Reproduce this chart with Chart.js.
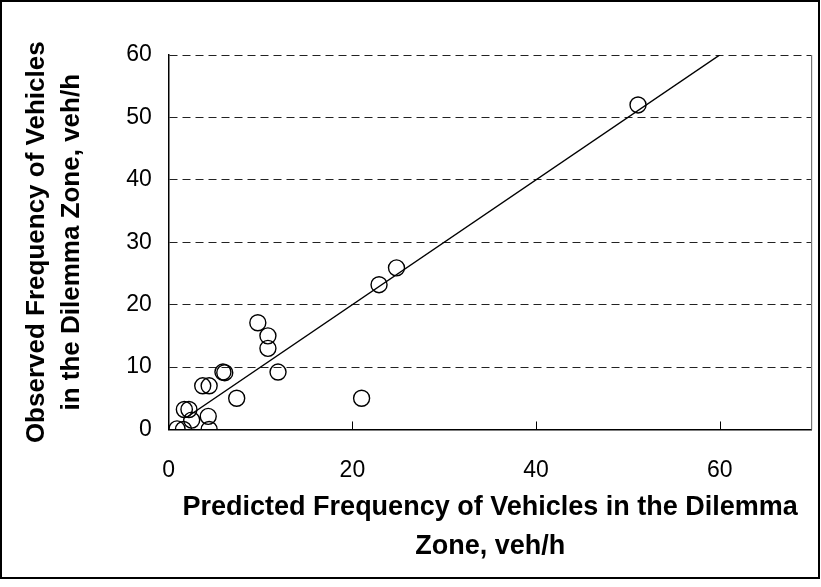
<!DOCTYPE html>
<html>
<head>
<meta charset="utf-8">
<script src="https://cdn.jsdelivr.net/npm/chart.js@4.4.1/dist/chart.umd.min.js"></script>
<style>
  html, body { margin: 0; padding: 0; background: #fff; }
  #wrap { position: relative; width: 821px; height: 587px; }
  #frame { position: absolute; left: 0; top: 0; width: 820px; height: 579px; box-sizing: border-box; border: 2px solid #000; pointer-events: none; }
</style>
</head>
<body>
<div id="wrap">
  <canvas id="dz" width="821" height="587"></canvas>
  <div id="frame"></div>
</div>
<script>
/* dilemma zone: observed vs predicted vehicle frequency */

const predicted = [51.1, 24.8, 22.9, 9.7, 10.8, 10.8, 11.9, 5.9, 6.1, 3.7, 4.4, 7.4, 21.0, 1.7, 2.2, 2.5, 4.3, 0.9, 1.6, 4.4];
const observed  = [52.0, 25.9, 23.2, 17.1, 15.0, 13.0, 9.2, 9.2, 9.1, 7.0, 7.0, 5.0, 5.0, 3.2, 3.2, 1.5, 2.1, 0.1, 0.0, 0.0];

// y = x reference line
const fitX = [2, 60];
const fitY = [2, 60];

const xTicks = [0, 20, 40, 60];
const yTicks = [0, 10, 20, 30, 40, 50, 60];

const xTitle = ['Predicted Frequency of Vehicles in the Dilemma', 'Zone, veh/h'];
const yTitle = ['Observed Frequency of Vehicles', 'in the Dilemma Zone, veh/h'];

const FONT = "'Liberation Sans', Arial, sans-serif";

// right edge of the plot box + inward tick marks on the x axis
const frameBits = {
  id: 'frameBits',
  afterDraw(chart) {
    const { ctx, chartArea: a, scales } = chart;
    ctx.save();
    ctx.strokeStyle = '#777';
    ctx.lineWidth = 1.2;
    ctx.beginPath();
    ctx.moveTo(a.right, a.top);
    ctx.lineTo(a.right, a.bottom);
    ctx.stroke();

    ctx.strokeStyle = '#000';
    ctx.lineWidth = 1;
    xTicks.slice(1).forEach(v => {
      const px = Math.round(scales.x.getPixelForValue(v)) + 0.5;
      ctx.beginPath();
      ctx.moveTo(px, a.bottom);
      ctx.lineTo(px, a.bottom - 8);
      ctx.stroke();
    });
    ctx.restore();
  }
};

new Chart(document.getElementById('dz'), {
  type: 'scatter',
  data: {
    datasets: [
      {
        data: predicted.map((x, i) => ({ x, y: observed[i] })),
        pointStyle: 'circle',
        pointRadius: 8,
        pointHoverRadius: 8,
        borderColor: '#000',
        borderWidth: 1.4,
        backgroundColor: 'rgba(0,0,0,0)'
      },
      {
        type: 'line',
        data: fitX.map((x, i) => ({ x, y: fitY[i] })),
        borderColor: '#000',
        borderWidth: 1.5,
        pointRadius: 0,
        fill: false
      }
    ]
  },
  options: {
    responsive: false,
    animation: false,
    events: [],
    layout: { padding: { top: 55, right: -2, left: 20, bottom: 20 } },
    plugins: { legend: { display: false }, tooltip: { enabled: false } },
    scales: {
      x: {
        type: 'linear',
        min: 0,
        max: 70,
        afterBuildTicks: s => { s.ticks = xTicks.map(value => ({ value })); },
        grid: { display: false },
        border: { display: true, color: '#000', width: 1.5 },
        ticks: { color: '#000', font: { family: FONT, size: 23 }, padding: 19 },
        title: {
          display: true,
          text: xTitle,
          color: '#000',
          font: { family: FONT, size: 27, weight: 'bold', lineHeight: 1.48 },
          padding: { top: -16, bottom: 0 }
        }
      },
      y: {
        type: 'linear',
        min: 0,
        max: 60,
        afterBuildTicks: s => { s.ticks = yTicks.map(value => ({ value })); },
        grid: { color: '#222', lineWidth: 1, drawTicks: false },
        border: { display: true, color: '#000', width: 1.5, dash: [8, 5] },
        ticks: { color: '#000', font: { family: FONT, size: 23 }, padding: 17 },
        title: {
          display: true,
          text: yTitle,
          color: '#000',
          font: { family: FONT, size: 26, weight: 'bold', lineHeight: 1.33 },
          padding: { top: 0, bottom: 20 }
        }
      }
    }
  },
  plugins: [frameBits]
});
</script>
</body>
</html>
